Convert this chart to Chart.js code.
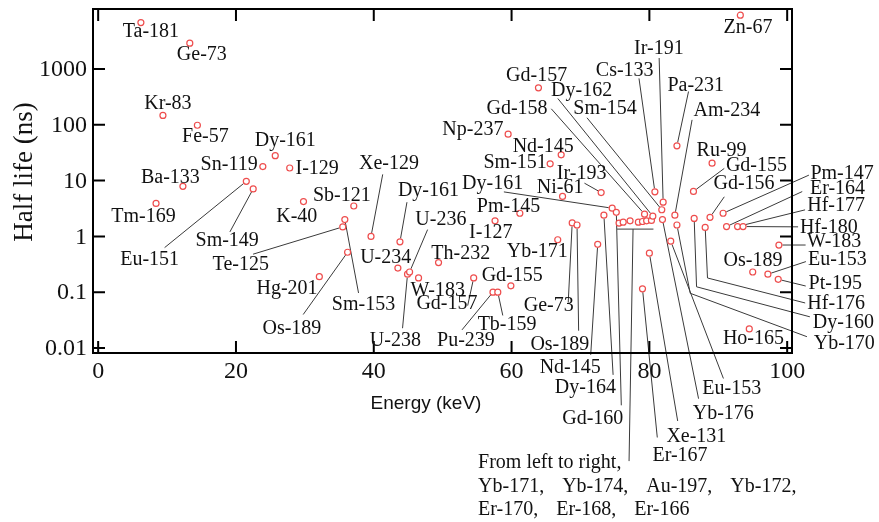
<!DOCTYPE html>
<html>
<head>
<meta charset="utf-8">
<script src="https://cdn.jsdelivr.net/npm/chart.js@4.4.1/dist/chart.umd.min.js"></script>
<style>
  html, body { margin: 0; padding: 0; background: #fff; }
  #wrap { width: 879px; height: 522px; }
</style>
</head>
<body>
<div id="wrap"><canvas id="halfLifeChart" width="879" height="522"></canvas></div>
<script>
// Mossbauer transitions: gamma energy (keV) against level half life (ns)
const isotopes = [
  "Ta-181", "Ge-73", "Kr-83", "Fe-57", "Ba-133", "Tm-169", "Eu-151", "Sm-149", "Sn-119", "Dy-161",
  "I-129", "K-40", "Sb-121", "Te-125", "Sm-153", "Os-189", "Hg-201", "Xe-129", "Dy-161", "U-234",
  "U-238", "U-236", "W-183", "Th-232", "I-127", "Pm-145", "Gd-157", "Gd-155", "Pu-239", "Tb-159",
  "Yb-171", "Np-237", "Gd-157", "Sm-151", "Nd-145", "Ni-61", "Ir-193", "Ge-73", "Os-189", "Dy-164",
  "Dy-161", "Gd-160", "Nd-145",
  "Yb-171", "Yb-174", "Au-197", "Yb-172", "Er-170", "Er-168", "Er-166",
  "Gd-158", "Dy-162", "Cs-133", "Sm-154", "Ir-191", "Yb-176", "Er-167", "Xe-131", "Eu-153", "Am-234",
  "Yb-170", "Pa-231", "Gd-155", "Dy-160", "Hf-176", "Gd-156", "Ru-99", "Pm-147", "Er-164", "Hf-177",
  "Hf-180", "Zn-67", "Ho-165", "Os-189", "Eu-153", "Pt-195", "W-183"
];
const energies = [
  6.2, 13.3, 9.4, 14.4, 12.3, 8.4, 21.5, 22.5, 23.9, 25.7,
  27.8, 29.8, 37.1, 35.5, 35.8, 36.2, 32.1, 39.6, 43.8, 43.5,
  44.9, 45.2, 46.5, 49.4, 57.6, 61.2, 54.5, 59.9, 57.3, 58.0,
  66.7, 59.5, 63.9, 65.6, 67.2, 67.4, 73.0, 68.8, 69.5, 73.4,
  74.6, 75.2, 72.5,
  75.6, 76.2, 77.2, 78.4, 79.0, 79.6, 80.3,
  79.3, 80.5, 80.8, 81.8, 82.0, 81.9, 79.0, 80.0, 83.1, 83.7,
  84.0, 84.0, 86.4, 86.5, 88.1, 88.8, 89.1, 90.7, 91.2, 92.8,
  93.6, 93.2, 94.5, 95.0, 97.2, 98.7, 98.8
];
const halfLives = [
  6800, 2900, 147, 98, 7.9, 3.9, 9.7, 7.1, 17.8, 28,
  16.8, 4.2, 3.5, 1.48, 2.0, 0.52, 0.19, 1.0, 0.8, 0.27,
  0.21, 0.23, 0.18, 0.34, 1.9, 2.6, 0.18, 0.13, 0.10, 0.10,
  0.87, 68, 460, 20, 29, 5.2, 6.1, 1.74, 1.6, 2.4,
  3.2, 2.7, 0.72,
  1.73, 1.8, 1.9, 1.8, 1.85, 1.9, 1.93,
  2.5, 2.3, 6.3, 3.0, 4.1, 2.0, 0.115, 0.5, 0.82, 2.4,
  1.6, 42, 6.4, 2.1, 1.45, 2.2, 20.5, 2.6, 1.5, 1.5,
  1.5, 9200, 0.022, 0.23, 0.21, 0.17, 0.70
];
// isotopes sharing one note below the axis
const groupNames = ["Yb-171", "Yb-174", "Au-197", "Yb-172", "Er-170", "Er-168", "Er-166"];
const groupStart = 43;
const xTicks = [0, 20, 40, 60, 80, 100];
const yTicks = [0.01, 0.1, 1, 10, 100, 1000];
const yTickText = ["0.01", "0.1", "1", "10", "100", "1000"];

// label placement, pixels relative to the point: text centre dx, dy, then leader line vertices
const placement = [
  [10, 8], [12, 11], [5, -12.5], [8, 10], [-12.5, -10], [-12.5, 12.5],
  [-96.7, 77, -81.7, 66.3], [-26, 51, -23.3, 43], [-33.7, -2.7], [10, -15.5],
  [27.5, -0.5], [-6.7, 14], [-12, -11], [-102, 37.3, -89.7, 27.3], [18.7, 84.2, 13.7, 73.4],
  [-55.7, 75.3, -44.4, 62.3], [-32.3, 11.3], [18, -74, 11.7, -62], [28.5, -52.3, 7, -39.6], [-12.2, -11],
  [-12.2, 65.3, -5, 54], [31.3, -53.7, 18, -42.4], [19.2, 11.7], [22.2, -9.3], [-4.3, 11.3],
  [-11.3, -7.7], [-26.7, 24.7, -6, 27.7], [1.3, -11], [-27, 47.7, -31, 37.7], [9.3, 31.3, 5, 23.3],
  [-20.5, 10.7], [-35.3, -5.3], [-1.8, -13], [-35, -2], [-18, -9.3],
  [-2.5, -9.7], [-19.5, -19.7, -16.7, -9.4], [-23.5, 82, -4, 79.7], [-17.2, 118.7, 1.6, 105.7], [-18.5, 171.7, 9.2, 159.7],
  [-119.5, -25, -108.3, -16.3], [-23.5, 205, 5, 193], [-27.5, 122.5, -7, 110.5],
  null, null, null, null, null, null, null,
  [-127.5, -106.7, -93.3, -105.4], [-71.2, -126, -95, -117.7], [-30.2, -121.7, -15.9, -113.4],
  [-56.8, -102.3, -74.8, -92], [-4.3, -154.5, -4, -144.2], [60.8, 192.8, 36.1, 179.1],
  [37.5, 165.7, 14.8, 148.7], [47, 182.3, 28.3, 167.8], [61, 147, 52.7, 137.3], [52, -105.3, 17.2, -95.3],
  [167.3, 118, 13.3, 68.3, 130, 111.7], [18.8, -61, 11.6, -54.3], [63, -26.3, 30.8, -23],
  [149.2, 103.7, 2.4, 68.4, 115.7, 98.4], [131, 75.3, 2.3, 50.6, 100, 75.6], [34, -34.2, 14.3, -20.5],
  [9.5, -13], [119, -40.1, 85.8, -38.1], [111, -38.7, 75.7, -35], [98.5, -21.7, 67.5, -16.7],
  [85.7, 0.3, 55, 0.3], [7.7, 11.7], [4.2, 8.7], [0.3, -12], [69.5, -15.3, 38, -12.6],
  [57, 3, 27.5, 6.7], [55.2, -4.3, 26.7, 0]
];

const SERIF = '"Liberation Serif", "Times New Roman", serif';
const LABEL_FONT = '20px ' + SERIF;

function pointPx(chart, i) {
  const meta = chart.getDatasetMeta(0);
  const el = meta.data[i];
  return { x: el.x, y: el.y };
}

const annotate = {
  id: 'annotate',
  beforeDatasetsDraw(chart) {
    const ctx = chart.ctx;
    ctx.save();
    ctx.strokeStyle = '#3a3a3a';
    ctx.lineWidth = 1;
    placement.forEach((p, i) => {
      if (!p || p.length < 4) return;
      const pt = pointPx(chart, i);
      const verts = [];
      for (let k = 2; k < p.length; k += 2) verts.push([pt.x + p[k], pt.y + p[k + 1]]);
      const dx = verts[0][0] - pt.x, dy = verts[0][1] - pt.y;
      const len = Math.hypot(dx, dy) || 1;
      ctx.beginPath();
      ctx.moveTo(pt.x + dx / len * 3.5, pt.y + dy / len * 3.5);
      verts.forEach(v => ctx.lineTo(v[0], v[1]));
      ctx.stroke();
    });
    // bracket under the grouped points and its lead to the note
    const first = pointPx(chart, groupStart);
    const last = pointPx(chart, groupStart + groupNames.length - 1);
    let low = 0;
    for (let k = 0; k < groupNames.length; k++) low = Math.max(low, pointPx(chart, groupStart + k).y);
    const barY = low + 6;
    ctx.beginPath();
    ctx.moveTo(first.x - 2, barY);
    ctx.lineTo(last.x + 2, barY);
    ctx.moveTo(first.x + 14, barY);
    ctx.lineTo(first.x + 10, barY + 232);
    ctx.stroke();
    ctx.restore();
  },
  afterDraw(chart) {
    const ctx = chart.ctx;
    const a = chart.chartArea;
    const xs = chart.scales.x, ys = chart.scales.y;
    ctx.save();

    // frame and inward ticks
    ctx.strokeStyle = '#000';
    ctx.lineWidth = 2;
    ctx.strokeRect(a.left, a.top, a.right - a.left, a.bottom - a.top);
    ctx.beginPath();
    xTicks.forEach(v => {
      const x = xs.getPixelForValue(v);
      ctx.moveTo(x, a.bottom); ctx.lineTo(x, a.bottom - 12);
      ctx.moveTo(x, a.top); ctx.lineTo(x, a.top + 12);
    });
    yTicks.forEach(v => {
      const y = ys.getPixelForValue(v);
      ctx.moveTo(a.left, y); ctx.lineTo(a.left + 12, y);
      ctx.moveTo(a.right, y); ctx.lineTo(a.right - 12, y);
    });
    ctx.stroke();

    // tick labels
    ctx.fillStyle = '#111';
    ctx.font = '24px ' + SERIF;
    ctx.textBaseline = 'middle';
    ctx.textAlign = 'right';
    yTicks.forEach((v, k) => ctx.fillText(yTickText[k], a.left - 6, ys.getPixelForValue(v) + 1));
    ctx.textAlign = 'center';
    xTicks.forEach(v => ctx.fillText(String(v), xs.getPixelForValue(v), a.bottom + 19));

    // axis titles
    ctx.font = '19px "Liberation Sans", Arial, sans-serif';
    ctx.fillText('Energy (keV)', 426, 404);
    ctx.save();
    ctx.translate(25, 172);
    ctx.rotate(-Math.PI / 2);
    ctx.font = '27px ' + SERIF;
    ctx.fillText('Half life (ns)', 0, 0);
    ctx.restore();

    // isotope labels
    ctx.font = LABEL_FONT;
    ctx.fillStyle = '#111';
    placement.forEach((p, i) => {
      if (!p) return;
      const pt = pointPx(chart, i);
      ctx.fillText(isotopes[i], pt.x + p[0], pt.y + p[1] + 1);
    });

    // note for the grouped points
    const first = pointPx(chart, groupStart);
    let low = 0;
    for (let k = 0; k < groupNames.length; k++) low = Math.max(low, pointPx(chart, groupStart + k).y);
    const noteX = first.x - 141;
    const noteY = low + 6 + 234;
    const rows = [["From left to right,"], groupNames.slice(0, 4), groupNames.slice(4)];
    ctx.textAlign = 'left';
    rows.forEach((row, r) => {
      let x = noteX;
      row.forEach((t, k) => {
        const s = (r > 0 && (k < row.length - 1 || r === 1)) ? t + ',' : t;
        ctx.fillText(s, x, noteY + r * 23.5);
        x += ctx.measureText(s).width + 18;
      });
    });
    ctx.restore();
  }
};

new Chart(document.getElementById('halfLifeChart'), {
  type: 'scatter',
  data: {
    datasets: [{
      data: energies.map((e, i) => ({ x: e, y: halfLives[i] })),
      pointRadius: 3,
      pointBorderWidth: 1.2,
      pointBorderColor: '#ee4d4d',
      pointBackgroundColor: '#ffffff'
    }]
  },
  options: {
    responsive: false,
    animation: false,
    devicePixelRatio: 1,
    layout: { padding: { left: 93, right: 87, top: 9, bottom: 169 } },
    plugins: { legend: { display: false }, tooltip: { enabled: false } },
    scales: {
      x: { type: 'linear', min: -0.75, max: 100.7, display: false },
      y: { type: 'logarithmic', min: 0.00813, max: 11885, display: false }
    }
  },
  plugins: [annotate]
});
</script>
</body>
</html>
